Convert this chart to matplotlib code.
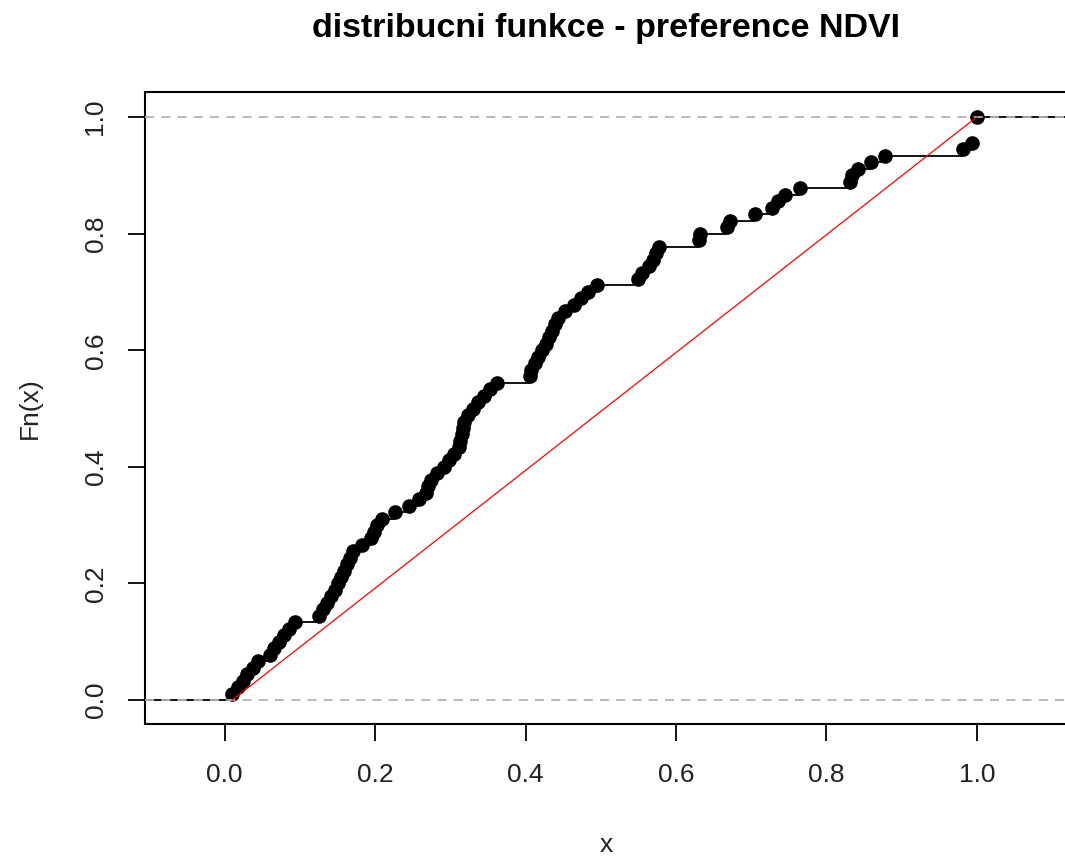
import numpy as np
import matplotlib
matplotlib.use("Agg")
from matplotlib import pyplot as plt

plt.rcParams['font.family'] = ['Liberation Sans', 'DejaVu Sans']

# sorted sample values (n = 90)
ndvi_pref = [
    0.010, 0.017, 0.024, 0.030, 0.037, 0.044, 0.060, 0.065, 0.072, 0.079,
    0.086, 0.093, 0.126, 0.131, 0.136, 0.141, 0.146, 0.150, 0.155, 0.159,
    0.163, 0.167, 0.171, 0.183, 0.194, 0.199, 0.203, 0.209, 0.226, 0.245,
    0.258, 0.267, 0.270, 0.274, 0.282, 0.291, 0.298, 0.305, 0.311, 0.313,
    0.315, 0.317, 0.318, 0.324, 0.330, 0.337, 0.345, 0.353, 0.362, 0.406,
    0.407, 0.412, 0.417, 0.422, 0.427, 0.431, 0.435, 0.439, 0.443, 0.452,
    0.465, 0.474, 0.483, 0.495, 0.550, 0.555, 0.564, 0.569, 0.573, 0.577,
    0.630, 0.632, 0.668, 0.672, 0.705, 0.728, 0.736, 0.745, 0.765, 0.831,
    0.834, 0.842, 0.860, 0.878, 0.982, 0.994, 1.000, 1.000, 1.000, 1.000,
]
x_ticks = [0.0, 0.2, 0.4, 0.6, 0.8, 1.0]
y_ticks = [0.0, 0.2, 0.4, 0.6, 0.8, 1.0]

#ecdf knots and heights
vals = np.sort(np.array(ndvi_pref))
knots, counts = np.unique(vals, return_counts=True)
fn = np.cumsum(counts) / len(vals)

xlim = (-0.106, 1.12)
ylim = (-0.041, 1.043)

fig = plt.figure(figsize=(10.65, 8.61), dpi=100)
ax = fig.add_axes([145 / 1065, (861 - 724) / 861, (1067 - 145) / 1065, (724 - 92) / 861])

# horizontal steps
left_edges = np.concatenate([[xlim[0]], knots])
right_edges = np.concatenate([knots, [xlim[1]]])
heights = np.concatenate([[0.0], fn])
ax.hlines(heights, left_edges, right_edges, colors="black", linewidth=1.3, zorder=2)
ax.plot(knots, fn, "o", color="black", markersize=9.5, zorder=3)

# reference lines (drawn over the outer steps, like abline in R)
ax.axhline(0, color="#b4b4b4", linestyle=(0, (5, 4)), linewidth=1.3, zorder=4)
ax.axhline(1, color="#b4b4b4", linestyle=(0, (5, 4)), linewidth=1.3, zorder=4)

# uniform cdf on the data range
ax.plot([vals.min(), vals.max()], [0, 1], color="red", linewidth=0.9, zorder=5)

ax.set_xlim(xlim)
ax.set_ylim(ylim)
ax.set_xticks(x_ticks)
ax.set_yticks(y_ticks)
ax.set_xticklabels([f"{t:.1f}" for t in x_ticks], fontsize=19, color="#222222")
ax.set_yticklabels([f"{t:.1f}" for t in y_ticks], fontsize=19, color="#222222",
                   rotation=90, va="center")
ax.tick_params(length=12, width=1.3)
ax.tick_params(axis="x", pad=16)
ax.tick_params(axis="y", pad=15)
for s in ax.spines.values():
    s.set_linewidth(1.5)

ax.set_xlabel("x", fontsize=19, color="#222222", va="center")
ax.set_ylabel("Fn(x)", fontsize=19, color="#222222", va="center")
ax.xaxis.set_label_coords((606 - 145) / 922, (724 - 845) / 632)
ax.yaxis.set_label_coords((30 - 145) / 922, 0.5)
fig.text(606 / 1065, 1 - 28 / 861, "distribucni funkce - preference NDVI",
         fontsize=24.5, fontweight="bold", ha="center", va="center")

plt.savefig("out.png", dpi=100)
